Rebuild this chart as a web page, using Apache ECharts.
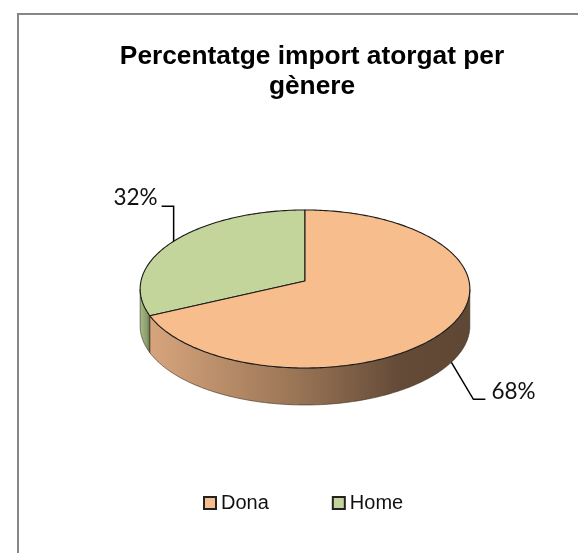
<!DOCTYPE html>
<html>
<head>
<meta charset="utf-8">
<style>
  html, body { margin: 0; padding: 0; background: #fff; }
  #chart { width: 578px; height: 553px; }
</style>
</head>
<body>
<div id="chart"></div>
<script src="https://cdn.jsdelivr.net/npm/echarts@6/dist/echarts.min.js"></script>
<script>
const categories = ['Dona', 'Home']
const values = [68, 32]
const topColors = ['#F8BD8D', '#C3D59B']

const myChart = echarts.init(document.getElementById('chart'))

// pie is a tilted disc, so the centre sits above the middle of the ellipse
const cx = 305, cy = 281
const radX = 164, radY = 78.2, tilt = -0.101, depth = 37
const frontStart = 95.8, frontEnd = 264.2

const rimPoint = (deg, drop = 0) => {
  const a = deg * Math.PI / 180
  const v = -Math.cos(a)
  const d = 1 + tilt * v
  return [cx + radX * Math.sin(a) / d, cy + radY * v / d + drop]
}

const arc = (from, to, drop = 0) => {
  const pts = []
  const steps = Math.max(2, Math.ceil(Math.abs(to - from)))
  for (let i = 0; i <= steps; i++) {
    pts.push(rimPoint(from + (to - from) * i / steps, drop))
  }
  return pts
}

const total = values.reduce((a, b) => a + b, 0)
const sliceAngles = idx => {
  const before = values.slice(0, idx).reduce((a, b) => a + b, 0)
  return [before / total * 360, (before + values[idx]) / total * 360]
}

const wallFill = [
  new echarts.graphic.LinearGradient(152, 0, 470, 0, [
    {offset: 0, color: '#D6A47C'},
    {offset: 0.45, color: '#9A7556'},
    {offset: 0.78, color: '#644B38'},
    {offset: 1, color: '#5E4734'}
  ], true),
  new echarts.graphic.LinearGradient(140, 0, 152, 0, [
    {offset: 0, color: '#A9BB85'},
    {offset: 0.6, color: '#8A9B6A'},
    {offset: 1, color: '#3C472C'}
  ], true)
]

// elbow of each leader line, relative to where it leaves the pie
const leaderBends = [[[22, 37], [34, 37]], [[0, -35], [-12, -35]]]
const labelGap = [6, -4]
const labelAlign = ['left', 'right']

const makeRenderItem = idx => (params, api) => {
  const [start, end] = sliceAngles(idx)
  const mid = (start + end) / 2
  const children = []

  // outer wall, only the part facing the viewer
  const wallFrom = Math.max(start, frontStart)
  const wallTo = Math.min(end, frontEnd)
  if (wallTo > wallFrom) {
    children.push({
      type: 'polygon',
      shape: {points: arc(wallFrom, wallTo).concat(arc(wallTo, wallFrom, depth))},
      style: {fill: wallFill[idx], stroke: '#3b2d20', lineWidth: 0.6}
    })
  }

  // top face
  children.push({
    type: 'polygon',
    shape: {points: [[cx, cy]].concat(arc(start, end))},
    style: {fill: topColors[idx], stroke: '#1a1a1a', lineWidth: 1.1, lineJoin: 'round'}
  })

  // leader line and label
  const onFront = mid > frontStart && mid < frontEnd
  const anchor = rimPoint(mid, onFront ? depth : 0)
  const bends = leaderBends[idx].map(b => [anchor[0] + b[0], anchor[1] + b[1]])
  children.push({
    type: 'polyline',
    shape: {points: [anchor].concat(bends)},
    style: {fill: null, stroke: '#000', lineWidth: 1.5}
  })
  const last = bends[bends.length - 1]
  children.push({
    type: 'text',
    style: {
      x: last[0] + labelGap[idx],
      y: last[1] - 8,
      text: api.value(0) + '%',
      fill: '#111',
      font: '22.5px Lato, "Open Sans", sans-serif',
      align: labelAlign[idx],
      verticalAlign: 'middle'
    }
  })

  return {type: 'group', children}
}

// home goes first, dona's wall sits in front of it
const drawOrder = [1, 0]

myChart.setOption({
  backgroundColor: '#fff',
  animation: false,
  title: {
    text: 'Percentatge import atorgat per\ngènere',
    left: 307,
    top: 37,
    textAlign: 'center',
    textStyle: {
      fontFamily: '"Liberation Sans", Arial, sans-serif',
      fontSize: 26.3,
      fontWeight: 'bold',
      color: '#000',
      lineHeight: 30
    }
  },
  legend: {
    data: categories,
    left: 203,
    top: 493,
    padding: 0,
    itemWidth: 12,
    itemHeight: 12,
    itemGap: 63,
    icon: 'rect',
    textStyle: {
      fontFamily: '"Liberation Sans", Arial, sans-serif',
      fontSize: 20,
      color: '#111'
    }
  },
  graphic: [{
    type: 'polyline',
    silent: true,
    shape: {points: [[18, 553], [18, 14], [578, 14]]},
    style: {fill: null, stroke: '#868686', lineWidth: 2}
  }],
  series: drawOrder.map(idx => ({
    type: 'custom',
    name: categories[idx],
    coordinateSystem: 'none',
    silent: true,
    itemStyle: {color: topColors[idx], borderColor: '#222', borderWidth: 1.5},
    renderItem: makeRenderItem(idx),
    data: [[values[idx]]]
  }))
})
</script>
</body>
</html>
